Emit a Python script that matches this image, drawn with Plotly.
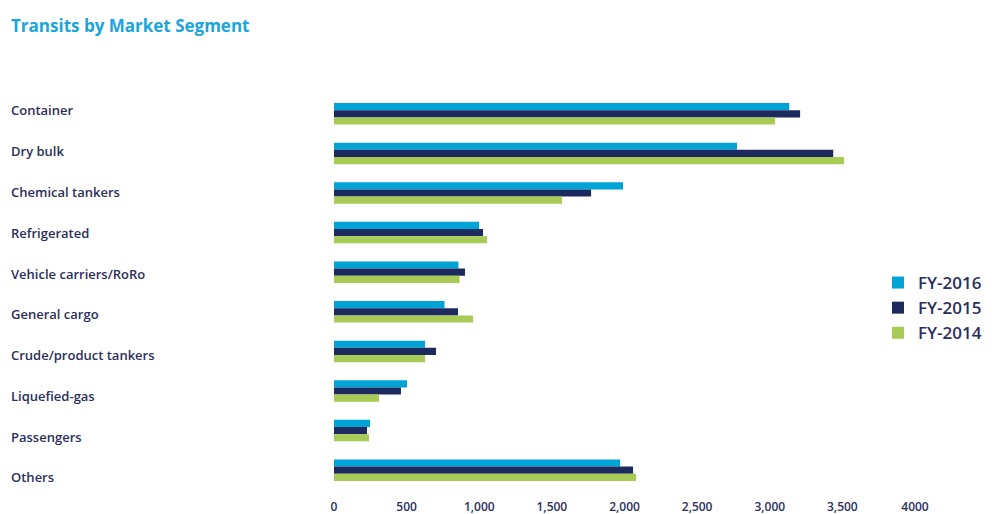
import plotly.graph_objects as go

categories = ["Container", "Dry bulk", "Chemical tankers", "Refrigerated",
              "Vehicle carriers/RoRo", "General cargo", "Crude/product tankers",
              "Liquefied-gas", "Passengers", "Others"]
fy2016 = [3134, 2775, 1990, 999, 857, 761, 627, 503, 248, 1970]
fy2015 = [3209, 3437, 1770, 1026, 902, 854, 702, 461, 227, 2059]
fy2014 = [3037, 3512, 1570, 1054, 864, 957, 627, 310, 241, 2080]
series_names = ["FY-2016", "FY-2015", "FY-2014"]
tick_values = [0, 500, 1000, 1500, 2000, 2500, 3000, 3500, 4000]
tick_labels = ["0", "500", "1,000", "1,500", "2,000", "2,500", "3,000", "3,500", "4000"]

colors = ["#00a3d6", "#1c2a5e", "#a8cb55"]
navy = "#2a2f5c"
FONT = "Open Sans"

W, H = 994, 514
ml, mr, mt, mb = 334, 79, 94, 24
pw = W - ml - mr
ph = H - mt - mb

fig = go.Figure()
for name, vals, col in zip(series_names, [fy2016, fy2015, fy2014], colors):
    fig.add_trace(go.Bar(y=categories, x=vals, name=name, orientation="h",
                         marker=dict(color=col, line=dict(width=0))))

# left-aligned category names placed through an invisible helper axis
for c in categories:
    fig.add_annotation(text=c, xref="paper", x=(9 - ml) / pw,
                       xanchor="left", yref="y2", y=c, yanchor="middle",
                       showarrow=False,
                       font=dict(family=FONT, size=13, color=navy, weight=600))

fig.update_layout(
    width=W, height=H,
    margin=dict(l=ml, r=mr, t=mt, b=mb, autoexpand=False),
    paper_bgcolor="white", plot_bgcolor="white",
    barmode="group", bargap=0.457, bargroupgap=0,
    title=dict(text="Transits by Market Segment", x=11 / W, xanchor="left",
               y=1 - 26 / H, yanchor="middle",
               font=dict(family=FONT, size=17, color="#1aa5dc", weight=700)),
    xaxis=dict(range=[0, 4000], tickvals=tick_values, ticktext=tick_labels,
               showgrid=False, zeroline=False, showline=False, automargin=False,
               ticks="outside", ticklen=6, tickcolor="rgba(0,0,0,0)",
               tickfont=dict(family=FONT, size=12, color=navy, weight=600)),
    yaxis=dict(categoryorder="array", categoryarray=categories,
               autorange="reversed", showticklabels=False, showgrid=False,
               zeroline=False, showline=False, ticks="", automargin=False),
    yaxis2=dict(overlaying="y", type="category", categoryorder="array",
                categoryarray=categories, range=[9.309, -0.404],
                visible=False, showgrid=False, automargin=False),
    legend=dict(x=(878 - ml) / pw, xanchor="left",
                y=1 - (265 - mt) / ph, yanchor="top",
                traceorder="normal", bgcolor="rgba(0,0,0,0)",
                font=dict(family=FONT, size=17, color=navy, weight=600)),
    showlegend=True,
)
fig.add_trace(go.Scatter(x=[None], y=[categories[0]], yaxis="y2",
                         showlegend=False, hoverinfo="skip", mode="markers"))

fig.write_html("out.html")
